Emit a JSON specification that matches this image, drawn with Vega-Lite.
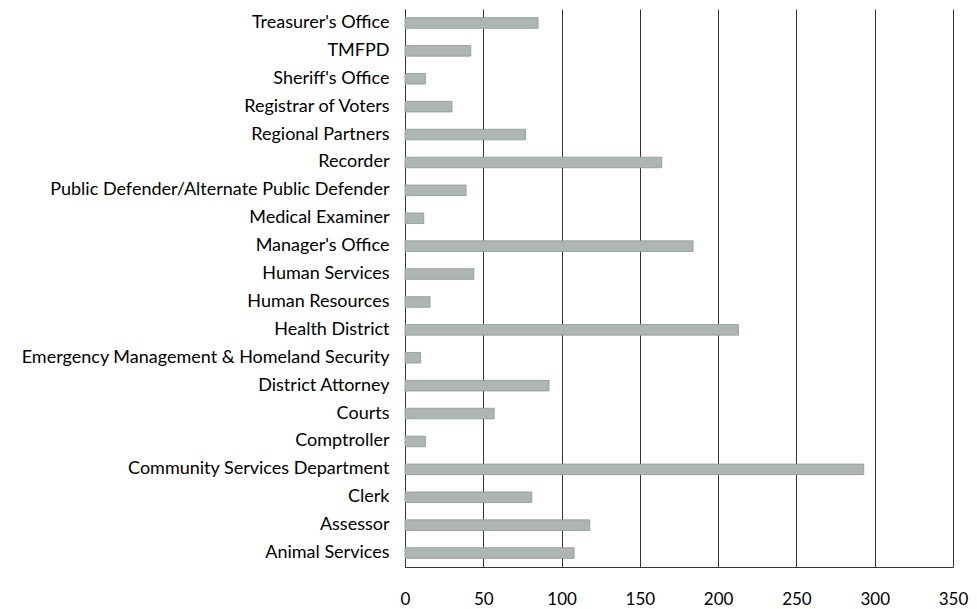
{
  "$schema": "https://vega.github.io/schema/vega-lite/v6.json",
  "width": 548,
  "height": 558,
  "autosize": "none",
  "padding": {"left": 405, "top": 9, "right": 24, "bottom": 42},
  "background": "white",
  "data": {
    "values": [
      {"dept": "Treasurer's Office", "value": 85},
      {"dept": "TMFPD", "value": 42},
      {"dept": "Sheriff's Office", "value": 13},
      {"dept": "Registrar of Voters", "value": 30},
      {"dept": "Regional Partners", "value": 77},
      {"dept": "Recorder", "value": 164},
      {"dept": "Public Defender/Alternate Public Defender", "value": 39},
      {"dept": "Medical Examiner", "value": 12},
      {"dept": "Manager's Office", "value": 184},
      {"dept": "Human Services", "value": 44},
      {"dept": "Human Resources", "value": 16},
      {"dept": "Health District", "value": 213},
      {"dept": "Emergency Management & Homeland Security", "value": 10},
      {"dept": "District Attorney", "value": 92},
      {"dept": "Courts", "value": 57},
      {"dept": "Comptroller", "value": 13},
      {"dept": "Community Services Department", "value": 293},
      {"dept": "Clerk", "value": 81},
      {"dept": "Assessor", "value": 118},
      {"dept": "Animal Services", "value": 108}
    ]
  },
  "mark": {"type": "bar", "fill": "#aeb6b3", "stroke": "#8f9794", "strokeWidth": 0.8},
  "encoding": {
    "y": {
      "field": "dept",
      "type": "nominal",
      "sort": null,
      "scale": {"paddingInner": 0.62, "paddingOuter": 0.31},
      "axis": {
        "title": null,
        "ticks": false,
        "labelPadding": 16,
        "labelFont": "Lato",
        "labelFontSize": 18,
        "labelColor": "#000",
        "labelLimit": 420,
        "domainColor": "#333",
        "grid": false
      }
    },
    "x": {
      "field": "value",
      "type": "quantitative",
      "scale": {"domain": [0, 350], "nice": false},
      "axis": {
        "title": null,
        "values": [0, 50, 100, 150, 200, 250, 300, 350],
        "ticks": false,
        "labelPadding": 24,
        "labelFont": "Lato",
        "labelFontSize": 17,
        "labelColor": "#000",
        "domainColor": "#333",
        "grid": true,
        "gridColor": "#333",
        "gridWidth": 1,
        "labelFlush": false
      }
    }
  },
  "config": {"view": {"stroke": null}}
}
